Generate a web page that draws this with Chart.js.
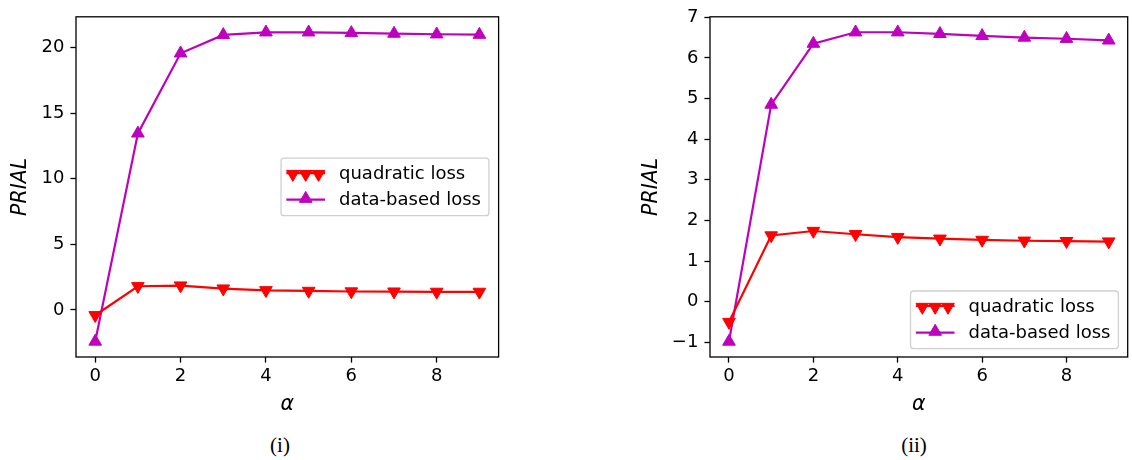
<!DOCTYPE html>
<html>
<head>
<meta charset="utf-8">
<script src="https://cdn.jsdelivr.net/npm/chart.js@4/dist/chart.umd.min.js"></script>
<style>
  html, body { margin: 0; padding: 0; background: #fff; overflow: hidden; }
  body { width: 1132px; height: 460px; position: relative; }
  canvas { position: absolute; top: 0; }
  #chartI { left: 0; }
  #chartII { left: 620px; }
  .caption { position: absolute; top: 433px; font: 21px "Liberation Serif", "DejaVu Serif", serif; color: #000; transform: translateX(-50%); }
</style>
</head>
<body>
<canvas id="chartI" width="510" height="420"></canvas>
<canvas id="chartII" width="516" height="420"></canvas>
<div class="caption" style="left:280px">(i)</div>
<div class="caption" style="left:914px">(ii)</div>
<script>
// Data
const alphas = [0, 1, 2, 3, 4, 5, 6, 7, 8, 9];

const quadraticI = [-0.4, 1.81, 1.86, 1.63, 1.5, 1.45, 1.41, 1.4, 1.38, 1.38];
const dataBasedI = [-2.4, 13.45, 19.55, 20.95, 21.15, 21.15, 21.1, 21.05, 21.0, 20.97];

const quadraticII = [-0.5, 1.63, 1.74, 1.66, 1.59, 1.55, 1.52, 1.5, 1.49, 1.48];
const dataBasedII = [-0.98, 4.85, 6.35, 6.63, 6.63, 6.59, 6.54, 6.5, 6.47, 6.43];

const xTicks = [0, 2, 4, 6, 8];
const yTicksI = [0, 5, 10, 15, 20];
const yTicksII = [-1, 0, 1, 2, 3, 4, 5, 6, 7];

const xRange = [-0.45, 9.45];
const yRangeI = [-3.58, 22.33];
const yRangeII = [-1.36, 7.01];

const seriesNames = ['quadratic loss', 'data-based loss'];
const RED = '#ff0000';
const MAGENTA = '#bf00bf';
const MARKER_R = 7.3;

// draws the black box around the plot area (all four spines)
const frame = {
    id: 'frame',
    afterDatasetsDraw(chart) {
        const { ctx, chartArea: a } = chart;
        ctx.save();
        ctx.strokeStyle = '#000';
        ctx.lineWidth = 1.3;
        ctx.strokeRect(a.left, a.top, a.right - a.left, a.bottom - a.top);
        ctx.restore();
    }
};

function triangle(ctx, x, y, r, down) {
    const s = down ? -1 : 1;
    ctx.beginPath();
    ctx.moveTo(x, y - s * r);
    ctx.lineTo(x + r * 0.866, y + s * r * 0.5);
    ctx.lineTo(x - r * 0.866, y + s * r * 0.5);
    ctx.closePath();
    ctx.fill();
    ctx.stroke();
}

// matplotlib-style legend drawn inside the plot area
const legendBox = {
    id: 'legendBox',
    afterDatasetsDraw(chart, args, opts) {
        const { ctx, chartArea: a } = chart;
        const sets = chart.data.datasets;
        ctx.save();
        ctx.font = '18px "DejaVu Sans"';
        const textW = Math.max(...sets.map(d => ctx.measureText(d.label).width));
        const w = 58 + textW + 8, h = 57.6;
        const x = a.right - opts.right - w;
        const y = opts.loc === 'center' ? (a.top + a.bottom) / 2 - h / 2 : a.bottom - opts.bottom - h;
        ctx.beginPath();
        ctx.roundRect(x, y, w, h, 3);
        ctx.fillStyle = 'rgba(255,255,255,0.8)';
        ctx.fill();
        ctx.strokeStyle = '#d0d0d0';
        ctx.lineWidth = 1.3;
        ctx.stroke();
        sets.forEach((d, i) => {
            const cy = y + 15 + i * 26.6;
            const x0 = x + 5.3, x1 = x0 + 38.7;
            ctx.strokeStyle = d.borderColor;
            ctx.fillStyle = d.borderColor;
            ctx.lineWidth = 2.2;
            ctx.beginPath();
            ctx.moveTo(x0, cy);
            ctx.lineTo(x1, cy);
            ctx.stroke();
            ctx.lineWidth = 1;
            const down = d.pointRotation === 180;
            const pts = down ? [x0 + 6.5, (x0 + x1) / 2, x1 - 6.5] : [(x0 + x1) / 2];
            pts.forEach(px => triangle(ctx, px, down ? cy + 1 : cy - 1, MARKER_R, down));
            ctx.fillStyle = '#000';
            ctx.textBaseline = 'middle';
            ctx.fillText(d.label, x + 58, cy + 1);
        });
        ctx.restore();
    }
};

function minusFmt(v) {
    return v < 0 ? '\u2212' + Math.abs(v) : String(v);
}

function makeChart(id, quad, dataBased, yTicks, yRange, yAxisWidth, yTitlePad, padRight, legendOpts) {
    const tickFont = { family: 'DejaVu Sans', size: 18 };
    const titleFont = { family: 'DejaVu Sans', size: 20.5, style: 'italic' };
    return new Chart(document.getElementById(id), {
        type: 'line',
        data: {
            datasets: [{
                label: seriesNames[0],
                data: alphas.map((a, i) => ({ x: a, y: quad[i] })),
                borderColor: RED,
                backgroundColor: RED,
                borderWidth: 2.2,
                pointStyle: 'triangle',
                pointRotation: 180,
                pointRadius: MARKER_R,
                pointBorderWidth: 1,
                clip: false
            }, {
                label: seriesNames[1],
                data: alphas.map((a, i) => ({ x: a, y: dataBased[i] })),
                borderColor: MAGENTA,
                backgroundColor: MAGENTA,
                borderWidth: 2.2,
                pointStyle: 'triangle',
                pointRadius: MARKER_R,
                pointBorderWidth: 1,
                clip: false
            }]
        },
        options: {
            responsive: false,
            animation: false,
            layout: { padding: { top: 14, right: padRight, left: 0, bottom: 0 } },
            plugins: {
                legend: { display: false },
                tooltip: { enabled: false },
                legendBox: legendOpts
            },
            scales: {
                x: {
                    type: 'linear',
                    min: xRange[0],
                    max: xRange[1],
                    afterBuildTicks: s => { s.ticks = xTicks.map(v => ({ value: v })); },
                    afterFit: s => { s.height = 63; },
                    border: { display: false },
                    grid: { drawOnChartArea: false, drawTicks: true, tickLength: 5.6, tickWidth: 1.3, tickColor: '#000' },
                    ticks: { color: '#000', font: tickFont, padding: 3, maxRotation: 0 },
                    title: { display: true, text: 'α', color: '#000', font: titleFont, padding: { top: 0, bottom: 3 } }
                },
                y: {
                    type: 'linear',
                    min: yRange[0],
                    max: yRange[1],
                    afterBuildTicks: s => { s.ticks = yTicks.map(v => ({ value: v })); },
                    afterFit: s => { s.width = yAxisWidth; },
                    border: { display: false },
                    grid: { drawOnChartArea: false, drawTicks: true, tickLength: 5.6, tickWidth: 1.3, tickColor: '#000' },
                    ticks: { color: '#000', font: tickFont, padding: 6, callback: v => minusFmt(v) },
                    title: { display: true, text: 'PRIAL', color: '#000', font: titleFont, padding: { top: yTitlePad, bottom: 0 } }
                }
            }
        },
        plugins: [frame, legendBox]
    });
}

makeChart('chartI', quadraticI, dataBasedI, yTicksI, yRangeI, 76, 8, 11.4, { loc: 'center', right: 9.7 });
makeChart('chartII', quadraticII, dataBasedII, yTicksII, yRangeII, 90, 19, 3.4, { loc: 'lower', right: 9.3, bottom: 8.4 });
</script>
</body>
</html>
